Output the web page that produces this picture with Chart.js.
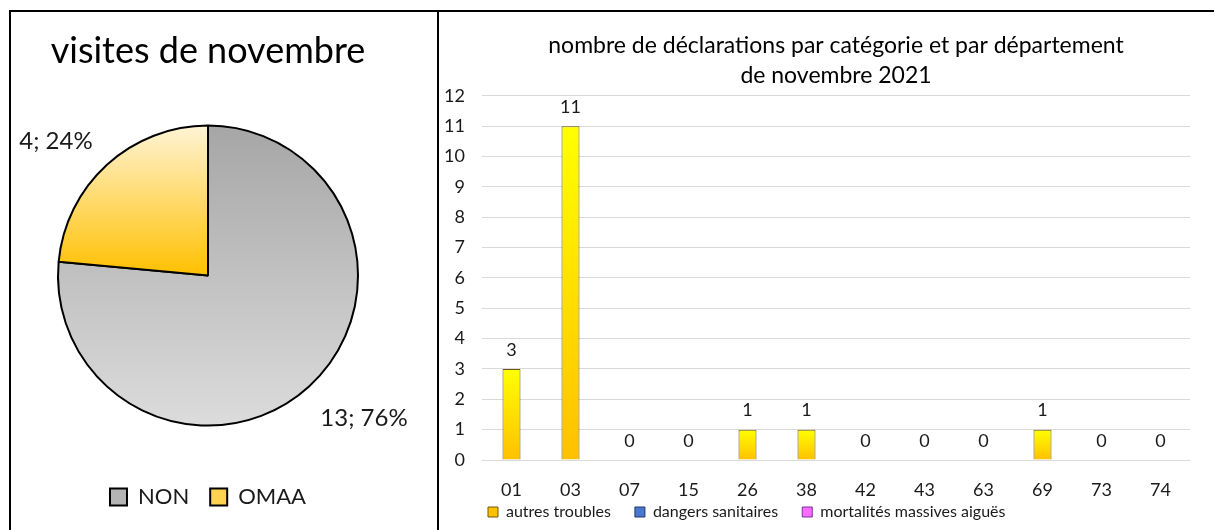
<!DOCTYPE html>
<html>
<head>
<meta charset="utf-8">
<script src="https://cdn.jsdelivr.net/npm/chart.js@4/dist/chart.umd.min.js"></script>
<style>
body { margin:0; background:#fff; width:1214px; height:530px; overflow:hidden; position:relative; }
.line { position:absolute; background:#000; }
#pieBox { position:absolute; left:11px; top:12px; }
#barBox { position:absolute; left:439px; top:12px; }
</style>
</head>
<body>
<div class="line" style="left:9px;top:10px;width:1205px;height:2px"></div>
<div class="line" style="left:9px;top:10px;width:2px;height:520px"></div>
<div class="line" style="left:437px;top:10px;width:2px;height:520px"></div>
<div id="pieBox"><canvas id="visitesPie" width="426" height="518"></canvas></div>
<div id="barBox"><canvas id="declBar" width="775" height="518"></canvas></div>
<script>
//<----------- data ----------->
const pieLabels = ["NON", "OMAA"];
const pieValues = [13, 4];

const depts = ["01", "03", "07", "15", "26", "38", "42", "43", "63", "69", "73", "74"];
const autresTroubles = [3, 11, 0, 0, 1, 1, 0, 0, 0, 1, 0, 0];
const dangersSanitaires = [0, 0, 0, 0, 0, 0, 0, 0, 0, 0, 0, 0];
const mortalitesMassives = [0, 0, 0, 0, 0, 0, 0, 0, 0, 0, 0, 0];
const yMax = 12;

const FONT = "Lato";
const INK = "#1a1a1a";

//<----------- pie: visites de novembre ----------->
function pieFill(ctx) {
  const chart = ctx.chart;
  const a = chart.chartArea;
  if (!a || ctx.type !== "data") return ctx.dataIndex === 1 ? "#ffd24d" : "#bfbfbf";
  const g = chart.ctx.createLinearGradient(0, a.top, 0, ctx.dataIndex === 1 ? (a.top + a.bottom) / 2 : a.bottom);
  if (ctx.dataIndex === 1) {
    g.addColorStop(0, "#fff4d6");
    g.addColorStop(1, "#ffc000");
  } else {
    g.addColorStop(0, "#a6a6a6");
    g.addColorStop(1, "#dcdcdc");
  }
  return g;
}
const pieLegendFill = ["#b4b4b4", "#ffd34f"];

// writes "value; pct%" outside each slice
const pieLabelsPlugin = {
  id: "pieLabels",
  afterDatasetsDraw(chart) {
    const meta = chart.getDatasetMeta(0);
    const total = pieValues.reduce((s, v) => s + v, 0);
    const c = chart.ctx;
    c.save();
    c.font = "24px " + FONT;
    c.fillStyle = INK;
    c.textAlign = "center";
    c.textBaseline = "middle";
    meta.data.forEach((arc, i) => {
      const p = arc.getProps(["x", "y", "startAngle", "endAngle", "outerRadius"], true);
      const mid = (p.startAngle + p.endAngle) / 2 - 0.1;
      const d = p.outerRadius + 57;
      const pct = Math.round(pieValues[i] / total * 100);
      c.fillText(pieValues[i] + "; " + pct + "%", p.x + Math.cos(mid) * d + 2, p.y + Math.sin(mid) * d + 4);
    });
    c.restore();
  }
};

new Chart(document.getElementById("visitesPie"), {
  type: "pie",
  data: {
    labels: pieLabels,
    datasets: [{
      data: pieValues,
      backgroundColor: pieFill,
      borderColor: "#000",
      borderWidth: 2,
      radius: 150
    }]
  },
  options: {
    responsive: false,
    animation: false,
    layout: { padding: { left: 30, right: 62, top: 0, bottom: 12 } },
    plugins: {
      title: {
        display: true,
        text: "visites de novembre",
        color: "#000",
        font: { family: FONT, size: 36, weight: "normal", lineHeight: 1.2 },
        padding: { top: 18, bottom: 52 }
      },
      legend: {
        position: "bottom",
        title: { display: true, text: "", font: { size: 1, lineHeight: 1 }, padding: { top: 38, bottom: 0 } },
        labels: {
          color: INK,
          font: { family: FONT, size: 22 },
          boxWidth: 17,
          boxHeight: 17,
          padding: 21,
          generateLabels(chart) {
            const items = Chart.overrides.pie.plugins.legend.labels.generateLabels(chart);
            items.forEach((it, i) => { it.fillStyle = pieLegendFill[i]; });
            return items;
          }
        }
      },
      tooltip: { enabled: false }
    }
  },
  plugins: [pieLabelsPlugin]
});

//<----------- bars: déclarations par département ----------->
function barFill(ctx) {
  const chart = ctx.chart;
  if (!chart.chartArea || ctx.type !== "data" || !ctx.raw) return "#ffd500";
  const y = chart.scales.y;
  const g = chart.ctx.createLinearGradient(0, y.getPixelForValue(ctx.raw), 0, y.getPixelForValue(0));
  g.addColorStop(0, "#ffff00");
  g.addColorStop(1, "#ffc000");
  return g;
}

// value above every bar of the first series
const barValuesPlugin = {
  id: "barValues",
  afterDatasetsDraw(chart) {
    const meta = chart.getDatasetMeta(0);
    const c = chart.ctx;
    c.save();
    c.font = "18px " + FONT;
    c.fillStyle = INK;
    c.textAlign = "center";
    c.textBaseline = "middle";
    meta.data.forEach((bar, i) => {
      c.fillText(String(autresTroubles[i]), bar.x, bar.y - 19);
    });
    c.restore();
  }
};

const tickFont = { family: FONT, size: 18 };
// axes are squeezed to fit the picture, so let their labels draw outside the axis box
function noLabelClip(s) { s._computeLabelArea = () => undefined; }

new Chart(document.getElementById("declBar"), {
  type: "bar",
  data: {
    labels: depts,
    datasets: [
      { label: "autres troubles", data: autresTroubles, backgroundColor: barFill, borderColor: "#6b5a14", borderWidth: 1 },
      { label: "dangers sanitaires", data: dangersSanitaires, backgroundColor: "#4a78d0", borderColor: "#1f3864", borderWidth: 1 },
      { label: "mortalités massives aiguës", data: mortalitesMassives, backgroundColor: "#ff6bff", borderColor: "#7030a0", borderWidth: 1 }
    ]
  },
  options: {
    responsive: false,
    animation: false,
    layout: { padding: { left: 25, right: 24, top: 0, bottom: 0 } },
    datasets: { bar: { categoryPercentage: 1, barPercentage: 0.305 } },
    scales: {
      x: {
        stacked: true,
        grid: { display: false },
        border: { display: false },
        ticks: { color: INK, font: tickFont, padding: 11, maxRotation: 0 },
        afterFit(s) { s.height = 20; noLabelClip(s); }
      },
      y: {
        stacked: true,
        min: 0,
        max: yMax,
        grid: { color: "#d9d9d9", drawTicks: false },
        border: { display: false },
        ticks: { stepSize: 1, color: INK, font: tickFont, padding: 17 },
        afterFit(s) { s.width = 18; noLabelClip(s); }
      }
    },
    plugins: {
      title: {
        display: true,
        fullSize: false,
        text: ["nombre de déclarations par catégorie et par département", "de novembre 2021"],
        color: "#000",
        font: { family: FONT, size: 23, weight: "normal", lineHeight: 1.3 },
        padding: { top: 19, bottom: 5 }
      },
      legend: {
        position: "bottom",
        align: "start",
        labels: {
          color: INK,
          font: { family: FONT, size: 16 },
          boxWidth: 10,
          boxHeight: 10,
          padding: 24
        }
      },
      tooltip: { enabled: false }
    }
  },
  plugins: [barValuesPlugin]
});
</script>
</body>
</html>
